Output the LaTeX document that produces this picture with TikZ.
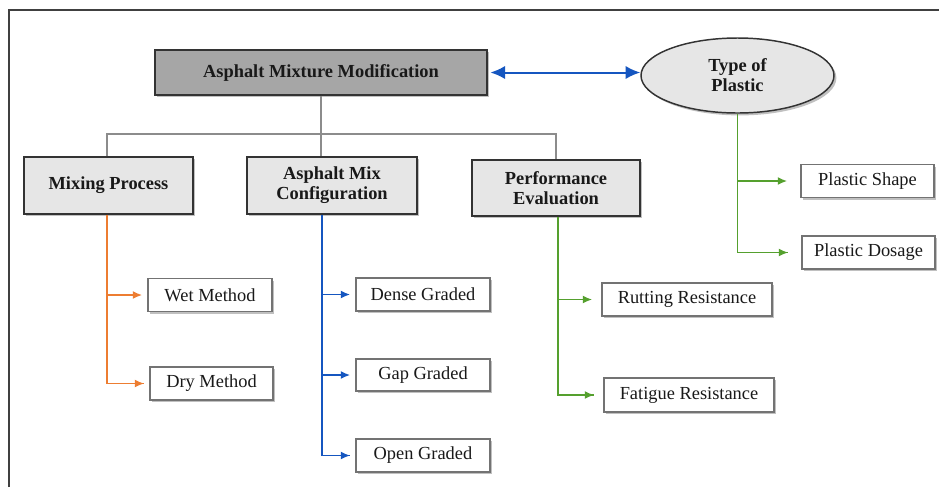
\documentclass[tikz,border=0pt]{standalone}
\usepackage{fontspec}
\setmainfont{Liberation Serif}
\usetikzlibrary{shapes.geometric,shadows,arrows.meta}
\definecolor{cOrange}{HTML}{ED7D31}
\definecolor{cBlue}{HTML}{1556C0}
\definecolor{cGreen}{HTML}{55A02E}
\definecolor{cLine}{HTML}{8C8C8C}
\definecolor{cHead}{HTML}{A6A6A6}
\definecolor{cSub}{HTML}{E6E6E6}
\begin{document}
\begin{tikzpicture}[x=0.75pt,y=-0.75pt,
  txt/.style={font=\fontsize{13.8}{15}\selectfont, text=black!90, align=center, inner sep=0pt},
  shad/.style={drop shadow={shadow xshift=1.8pt, shadow yshift=-1.8pt, fill=black!35, opacity=0.7}},
  headbox/.style={txt, font=\fontsize{13.8}{15}\selectfont\bfseries, draw=black!80, line width=1.1pt, fill=cHead, shad, minimum width=332*0.75pt, minimum height=45*0.75pt},
  subbox/.style={txt, font=\fontsize{13.8}{15}\selectfont\bfseries, draw=black!80, line width=1.1pt, fill=cSub, shad},
  leaf/.style={txt, draw=black!55, line width=0.8pt, fill=white, shad},
  conn/.style={line width=1.2pt},
  tip/.style={-{Latex[length=7pt,width=6pt]}}
]
\useasboundingbox (0,0) rectangle (939,487);
\fill[white] (0,0) rectangle (939,487);
% frame (top and left only)
\draw[black!75, line width=1.6pt] (9,487) -- (9,10) -- (939,10);

% main nodes
\node[headbox] (amm) at (321,72.5) {Asphalt Mixture Modification};
\node[ellipse, txt, font=\fontsize{13.8}{15}\selectfont\bfseries, draw=black!80, line width=1.1pt, fill=cSub, shad,
      minimum width=193*0.75pt, minimum height=75*0.75pt] (top) at (737.5,75.5) {Type of\\Plastic};

\node[subbox, minimum width=169*0.75pt, minimum height=57*0.75pt] (mp) at (108.5,185.5) {Mixing Process};
\node[subbox, minimum width=170*0.75pt, minimum height=57*0.75pt] (amc) at (332,185.5) {Asphalt Mix\\Configuration};
\node[subbox, minimum width=168*0.75pt, minimum height=56*0.75pt] (pe) at (556,188) {Performance\\Evaluation};

% leaves
\node[leaf, minimum width=124*0.75pt, minimum height=33*0.75pt] (wet) at (210,295) {Wet Method};
\node[leaf, minimum width=123*0.75pt, minimum height=33*0.75pt] (dry) at (211.5,383.5) {Dry Method};
\node[leaf, minimum width=134*0.75pt, minimum height=33*0.75pt] (dense) at (423,294.5) {Dense Graded};
\node[leaf, minimum width=134*0.75pt, minimum height=32*0.75pt] (gap) at (423,375) {Gap Graded};
\node[leaf, minimum width=134*0.75pt, minimum height=33*0.75pt] (open) at (423,455.5) {Open Graded};
\node[leaf, minimum width=170*0.75pt, minimum height=33*0.75pt] (rut) at (687,299.5) {Rutting Resistance};
\node[leaf, minimum width=170*0.75pt, minimum height=34*0.75pt] (fat) at (689,395) {Fatigue Resistance};
\node[leaf, minimum width=133*0.75pt, minimum height=33*0.75pt] (shape) at (867.5,181) {Plastic Shape};
\node[leaf, minimum width=133*0.75pt, minimum height=33*0.75pt] (dos) at (868.5,252.5) {Plastic Dosage};

% gray tree
\coordinate (bus) at (321,134);
\draw[cLine, conn] (amm.south) -- (amm.south |- amc.north);
\draw[cLine, conn] ([xshift=-1pt]mp.north) |- (bus) -| (pe.north);

% double arrow
\draw[cBlue, line width=1.5pt, {Latex[length=11pt,width=10pt]}-{Latex[length=11pt,width=10pt]}] ([xshift=2pt]amm.east) -- (top.west |- amm.east);

% orange
\coordinate (o0) at ([xshift=-1pt]mp.south);
\draw[cOrange, conn] (o0) |- ([xshift=-4pt]dry.west);
\draw[cOrange, conn, tip] (o0 |- wet.west) -- ([xshift=-4pt]wet.west);
\draw[cOrange, conn, tip] (o0 |- dry.west) -- ([xshift=-4pt]dry.west);

% blue
\coordinate (b0) at ([xshift=-7.5pt]amc.south);
\draw[cBlue, conn] (b0) |- ([xshift=-4pt]open.west);
\draw[cBlue, conn, tip] (b0 |- dense.west) -- ([xshift=-4pt]dense.west);
\draw[cBlue, conn, tip] (b0 |- gap.west) -- ([xshift=-4pt]gap.west);
\draw[cBlue, conn, tip] (b0 |- open.west) -- ([xshift=-4pt]open.west);

% green (performance)
\coordinate (g0) at ([xshift=1.5pt]pe.south);
\draw[cGreen, conn] (g0) |- ([xshift=-7pt]fat.west);
\draw[cGreen, conn, tip] (g0 |- rut.west) -- ([xshift=-7pt]rut.west);
\draw[cGreen, conn, tip] (g0 |- fat.west) -- ([xshift=-7pt]fat.west);

% green (plastic)
\coordinate (p0) at (top.south);
\draw[cGreen, conn] (p0) |- ([xshift=-10pt]dos.west);
\draw[cGreen, conn, tip] (p0 |- shape.west) -- ([xshift=-10pt]shape.west);
\draw[cGreen, conn, tip] (p0 |- dos.west) -- ([xshift=-10pt]dos.west);
\end{tikzpicture}
\end{document}
